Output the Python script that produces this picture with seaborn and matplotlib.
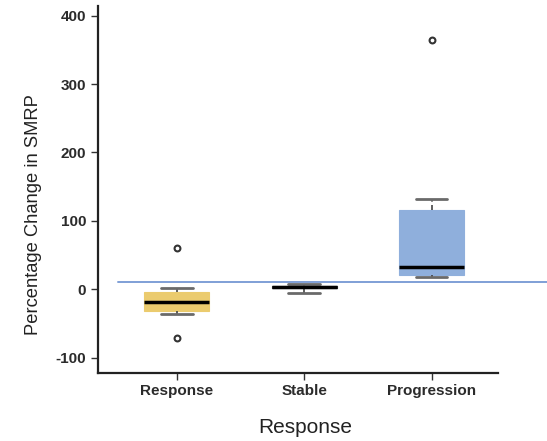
import matplotlib
matplotlib.use("Agg")
import matplotlib.pyplot as plt
import matplotlib.transforms as mtransforms
import numpy as np
import pandas as pd
import seaborn as sns

# Percentage change in SMRP by response group
categories = ["Response", "Stable", "Progression"]
response_vals = [-36.0, -31.3, -19.0, -4.4, 2.3]
stable_vals = [-5.0, 2.5, 3.8, 5.0, 7.3]
progression_vals = [18.4, 20.9, 33.0, 116.4, 132.0]
outlier_groups = ["Response", "Response", "Progression"]
outlier_vals = [60.0, -70.7, 364.5]
reference_level = 10.0
y_ticks = [-100, 0, 100, 200, 300, 400]

box_colors = ["#EBCB6E", "#6f6f6f", "#8FAFDC"]

sns.set_theme(style="ticks")
plt.rcParams["font.family"] = ["Liberation Sans", "DejaVu Sans"]

df = pd.DataFrame({
    "group": ["Response"] * len(response_vals)
    + ["Stable"] * len(stable_vals)
    + ["Progression"] * len(progression_vals),
    "value": response_vals + stable_vals + progression_vals,
})
out_df = pd.DataFrame({"group": outlier_groups, "value": outlier_vals})

fig = plt.figure(figsize=(5.47, 4.41), dpi=100)
ax = fig.add_axes([0.179, 0.155, 0.731, 0.831])

sns.boxplot(
    data=df, x="group", y="value", order=categories,
    hue="group", hue_order=categories, palette=box_colors, legend=False,
    saturation=1, whis=(0, 100), width=0.51, showfliers=False,
    linecolor="#5a5a5a", linewidth=1.5,
    medianprops={"color": "black", "linewidth": 2.5},
    capprops={"color": "#6a6a6a", "linewidth": 2.0},
    whiskerprops={"color": "#444444", "linewidth": 1.2},
    ax=ax,
)

# boxes drawn without dark outlines, caps narrower than the boxes
for cont, col in zip(ax.containers, box_colors):
    for box in cont.boxes:
        box.set_edgecolor(col if col != "#6f6f6f" else "#333333")
        box.set_linewidth(0.8)
    for cap in cont.caps:
        xc = np.mean(cap.get_xdata())
        cap.set_xdata([xc - 0.125, xc + 0.125])
    if cont is ax.containers[-1]:
        cont.whiskers[1].set_linestyle((0, (3, 2)))

sns.stripplot(
    data=out_df, x="group", y="value", order=categories, jitter=False,
    marker="o", size=4.2, color="white", edgecolor="#333333", linewidth=1.5,
    ax=ax, zorder=5,
)

# reference line extending past the plotting area
trans = mtransforms.blended_transform_factory(ax.transAxes, ax.transData)
ax.plot([0.05, 1.13], [reference_level, reference_level], color="#7F9FD6",
        linewidth=1.4, transform=trans, clip_on=False, zorder=1)

ax.set_xlim(-0.62, 2.52)
ax.set_ylim(-122, 414)
ax.set_yticks(y_ticks)
ax.set_yticklabels([str(t) for t in y_ticks])

sns.despine(ax=ax)
for s in ["left", "bottom"]:
    ax.spines[s].set_linewidth(1.6)
    ax.spines[s].set_color("#222222")

ax.tick_params(axis="both", direction="out", length=5, width=1.0, color="#333333",
               labelcolor="#2b2b2b")
for lab in ax.get_xticklabels() + ax.get_yticklabels():
    lab.set_fontweight("bold")
    lab.set_fontsize(11)

ax.set_xlabel("Response", fontsize=15, color="#222222")
ax.set_ylabel("Percentage Change in SMRP", fontsize=13.2, color="#222222")
ax.xaxis.set_label_coords(0.518, -0.125)
ax.yaxis.set_label_coords(-0.14, 0.43)

fig.savefig("out.png", dpi=100)
